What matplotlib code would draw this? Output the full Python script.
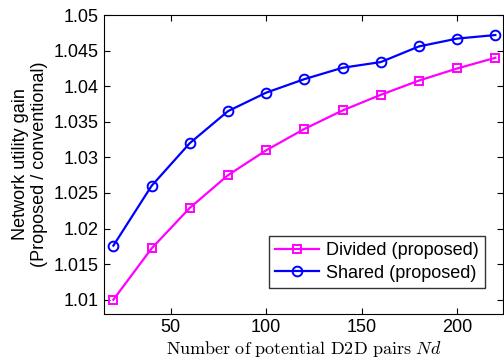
import matplotlib
matplotlib.use("Agg")
import matplotlib.pyplot as plt

plt.rcParams['font.family'] = ['Liberation Sans', 'DejaVu Sans']
plt.rcParams['mathtext.fontset'] = 'cm'

# data
nd = [20, 40, 60, 80, 100, 120, 140, 160, 180, 200, 220]
divided = [1.0100, 1.0172, 1.0229, 1.0275, 1.0310, 1.0340, 1.0366, 1.0388, 1.0408, 1.0425, 1.0440]
shared = [1.0176, 1.0260, 1.0320, 1.0365, 1.0391, 1.0410, 1.0426, 1.0434, 1.0456, 1.0467, 1.0472]

yticks = [1.01, 1.015, 1.02, 1.025, 1.03, 1.035, 1.04, 1.045, 1.05]
yticklabels = ["1.01", "1.015", "1.02", "1.025", "1.03", "1.035", "1.04", "1.045", "1.05"]
xticks = [50, 100, 150, 200]

fig = plt.figure(figsize=(5.04, 3.6), dpi=100)
ax = fig.add_axes([0.206, 0.128, 0.792, 0.830])

ax.plot(nd, divided, color='#ff00ff', marker='s', markersize=5.5, markerfacecolor='none',
        markeredgewidth=1.4, linewidth=1.6, label='Divided (proposed)')
ax.plot(nd, shared, color='#0000ff', marker='o', markersize=7, markerfacecolor='none',
        markeredgewidth=1.4, linewidth=1.6, label='Shared (proposed)')

ax.set_xlim(15, 224)
ax.set_ylim(1.008, 1.05)
ax.set_xticks(xticks)
ax.set_yticks(yticks)
ax.set_yticklabels(yticklabels)
ax.tick_params(direction='in', top=True, right=True, labelsize=13, length=4)

ax.set_xlabel(r"$\mathrm{Number\ of\ potential\ D2D\ pairs}\ Nd$", fontsize=13, labelpad=2)
ax.set_ylabel("Network utility gain\n(Proposed / conventional)", fontsize=13, labelpad=4)

leg = ax.legend(loc='lower right', bbox_to_anchor=(0.955, 0.087), fontsize=13, frameon=True,
                fancybox=False, edgecolor='black', handlelength=2.4, borderpad=0.35,
                labelspacing=0.3, handletextpad=0.4, borderaxespad=0)
leg.get_frame().set_linewidth(1.0)

fig.savefig("out.png", dpi=100)
